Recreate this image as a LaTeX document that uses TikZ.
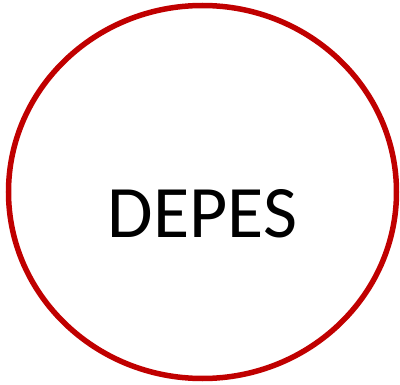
\documentclass[tikz,border=0pt]{standalone}
\usepackage{fontspec}
\setmainfont{Carlito}
\usepackage{tikz}
\usetikzlibrary{shapes.geometric}
\definecolor{ringRed}{HTML}{C00000}
\tikzset{
    % Red ring
    ring/.style={
        ellipse,
        draw=ringRed,
        line width=5.5pt,
        minimum width=388pt,
        minimum height=373pt,
        inner sep=0pt,
    },
    % Big label
    ring label/.style={
        font=\fontsize{74}{80}\selectfont,
        text=black,
        inner sep=0pt,
    },
}
\begin{document}
\begin{tikzpicture}[x=1pt, y=1pt]
    \useasboundingbox (0,0) rectangle (400,384);
    \node (ring) [ring] at (202.5,192) {};
    \node (depes) [ring label] at ([yshift=-22pt]ring.center) {DEPES};
\end{tikzpicture}
\end{document}
